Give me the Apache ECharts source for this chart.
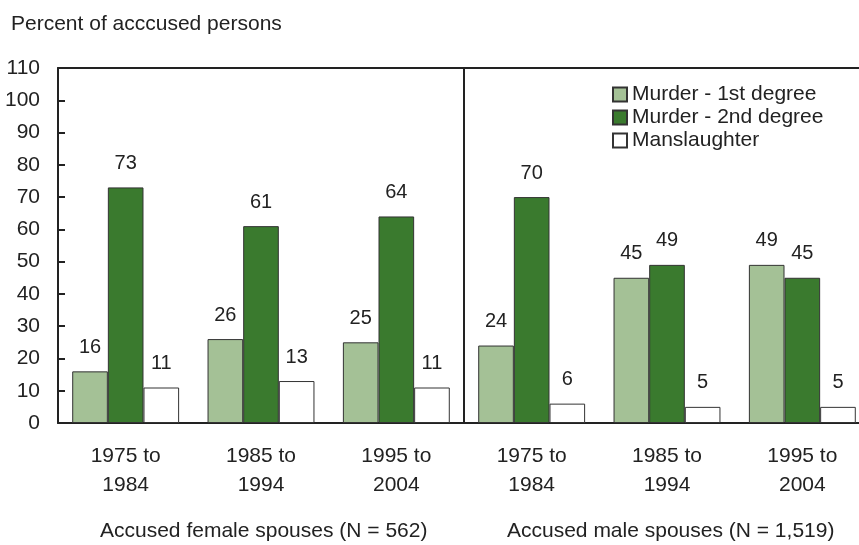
<!DOCTYPE html>
<html>
<head>
<meta charset="utf-8">
<script src="https://cdn.jsdelivr.net/npm/echarts@6/dist/echarts.min.js"></script>
<style>
html,body{margin:0;padding:0;background:#fff;}
#main{width:859px;height:545px;}
</style>
</head>
<body>
<div id="main"></div>
<script>
var periods = ["1975 to\n1984","1985 to\n1994","1995 to\n2004","1975 to\n1984","1985 to\n1994","1995 to\n2004"];
var groupNames = ["Accused female spouses (N = 562)","Accused male spouses (N = 1,519)"];
var murder1 = [16,26,25,24,45,49];
var murder2 = [73,61,64,70,49,45];
var manslaughter = [11,13,11,6,5,5];
var yTicks = {min:0, max:110, interval:10};

var chart = echarts.init(document.getElementById('main'));
var font = "'Liberation Sans', Arial, Helvetica, sans-serif";
var ink = "#222";

function barSeries(name, data, color){
	return {
		name:name,
		type:'bar',
		data:data,
		barGap:'0%',
		barCategoryGap:'21%',
		itemStyle:{color:color, borderColor:'#333', borderWidth:1},
		label:{show:true, position:'top', distance:14, color:ink, fontSize:20, fontFamily:font}
	};
}

var option = {
	animation:false,
	textStyle:{fontFamily:font},
	title:{
		text:"Percent of acccused persons",
		left:6, top:9,
		textStyle:{color:ink, fontSize:21, fontWeight:'normal', fontFamily:font}
	},
	legend:{
		orient:'vertical',
		left:607, top:79,
		icon:'rect',
		itemWidth:14, itemHeight:14, itemGap:2,
		textStyle:{color:ink, fontSize:21, fontFamily:font},
		data:["Murder - 1st degree","Murder - 2nd degree","Manslaughter"]
	},
	grid:{left:58, width:812, top:68, height:355, outerBoundsMode:'none', containLabel:false},
	xAxis:[{
		type:'category',
		data:periods,
		axisLine:{lineStyle:{color:'#222', width:2}},
		axisTick:{show:false},
		axisLabel:{color:ink, fontSize:21, lineHeight:29, margin:19, fontFamily:font}
	},{
		type:'category',
		position:'top',
		data:periods,
		axisLine:{lineStyle:{color:'#222', width:2}},
		axisTick:{show:false},
		axisLabel:{show:false}
	}],
	yAxis:{
		type:'value',
		min:yTicks.min, max:yTicks.max, interval:yTicks.interval,
		axisLine:{show:true, lineStyle:{color:'#222', width:2}},
		axisTick:{show:true, inside:true, length:7, lineStyle:{color:'#222', width:2}},
		axisLabel:{color:ink, fontSize:21, margin:18, fontFamily:font},
		splitLine:{show:false}
	},
	series:[
		barSeries("Murder - 1st degree", murder1, '#a4c196'),
		barSeries("Murder - 2nd degree", murder2, '#3a7a2e'),
		barSeries("Manslaughter", manslaughter, '#ffffff')
	]
};

chart.setOption(option);

// divider between the two groups, placed from the axis scales
var xa = chart.convertToPixel({xAxisIndex:0}, 2);
var xb = chart.convertToPixel({xAxisIndex:0}, 3);
var yTop = chart.convertToPixel({yAxisIndex:0}, yTicks.max);
var yBot = chart.convertToPixel({yAxisIndex:0}, yTicks.min);
var xMid = Math.round((xa + xb) / 2);
chart.setOption({
	graphic:[
		{type:'line', shape:{x1:xMid, y1:yTop, x2:xMid, y2:yBot}, style:{stroke:'#222', lineWidth:2}, z:10},
		{type:'text', left:100, top:521, style:{text:groupNames[0], fill:ink, font:"21px " + font}},
		{type:'text', left:507, top:521, style:{text:groupNames[1], fill:ink, font:"21px " + font}}
	]
});
</script>
</body>
</html>
